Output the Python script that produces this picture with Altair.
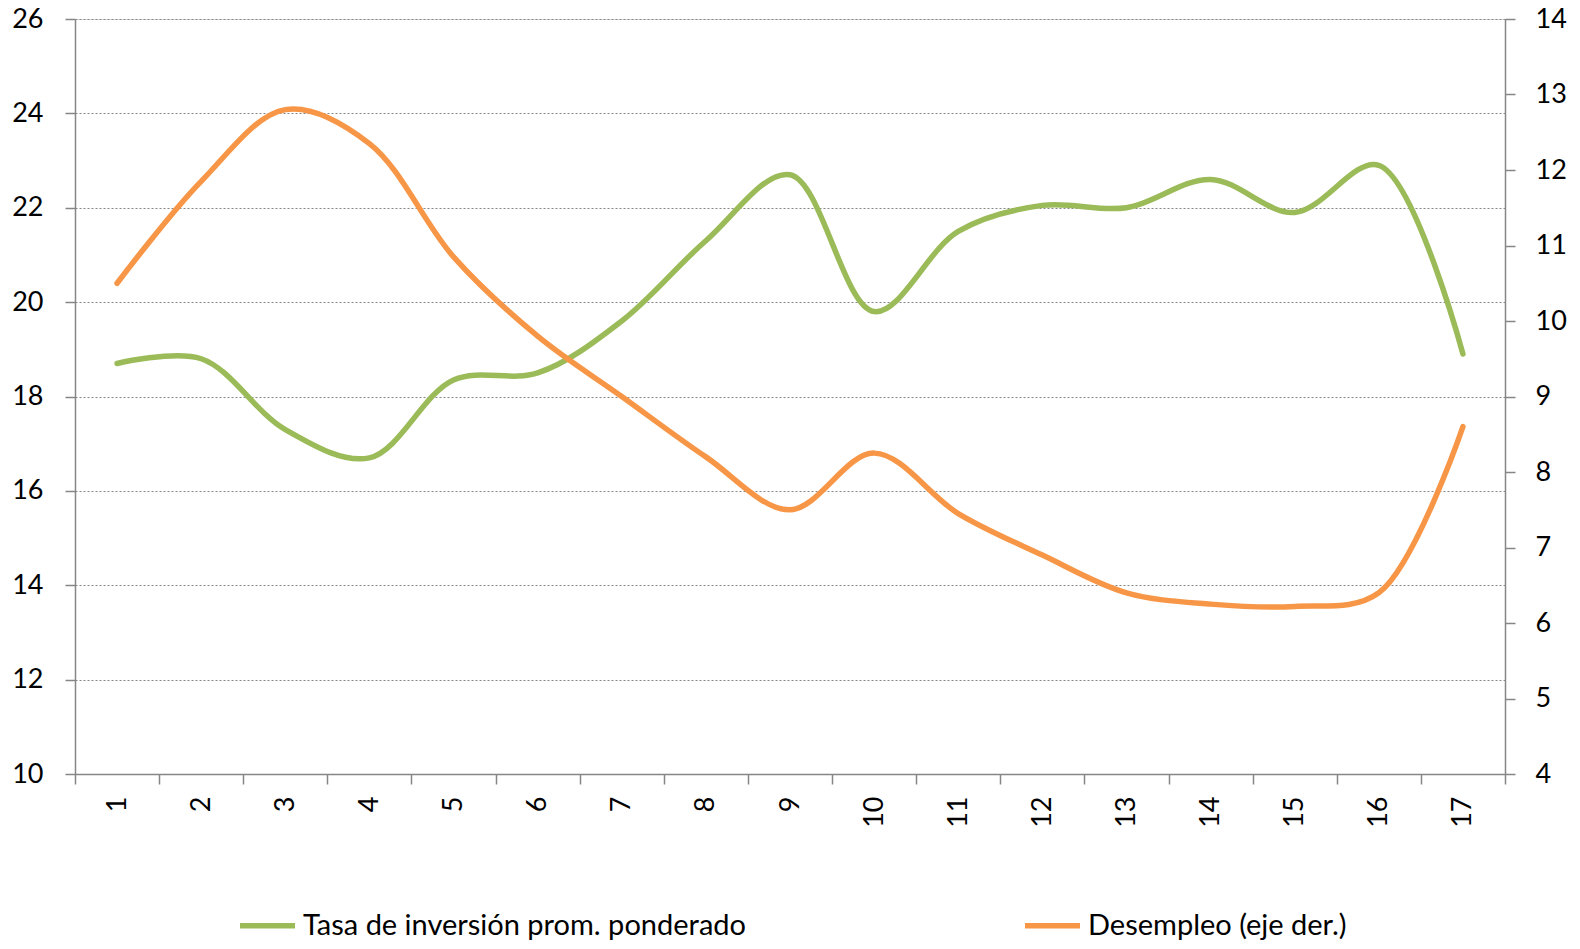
import altair as alt
import pandas as pd

# ---- data ----
periodos = list(range(1, 18))
inversion = [18.7, 18.8, 17.3, 16.7, 18.35, 18.5, 19.6, 21.3, 22.7, 19.8,
             21.5, 22.05, 22.0, 22.6, 21.9, 22.9, 18.9]
desempleo = [10.5, 11.85, 12.8, 12.35, 10.85, 9.8, 9.0, 8.2, 7.5, 8.25,
             7.45, 6.9, 6.4, 6.25, 6.22, 6.4, 8.6]
series = ["Tasa de inversión prom. ponderado", "Desempleo (eje der.)"]
colores = ["#9BBB59", "#F79646"]
left_ticks = list(range(10, 27, 2))
right_ticks = list(range(4, 15, 1))

df = pd.DataFrame({"periodo": periodos, "inv": inversion, "des": desempleo})

FONT = "Lato"
FS = 27
AXIS_GRAY = "#868686"

x_enc = alt.X(
    "periodo:O",
    bandPosition=0.5,
    scale=alt.Scale(type="band", paddingInner=0, paddingOuter=0),
    axis=alt.Axis(
        title=None, labelAngle=270, tickBand="extent", grid=False,
        domainColor=AXIS_GRAY, tickColor=AXIS_GRAY, tickSize=10,
        labelPadding=12, labelFontSize=FS, labelFont=FONT, labelColor="black",
        domainWidth=1.5, tickWidth=1.5,
    ),
)

color_enc = alt.Color(
    "serie:N",
    scale=alt.Scale(domain=series, range=colores),
    legend=alt.Legend(
        title=None, orient="none", legendX=162, legendY=876,
        direction="horizontal", columns=2, columnPadding=268,
        symbolType="stroke", symbolSize=3025, symbolStrokeWidth=5.5,
        labelFontSize=29, labelFont=FONT, labelColor="black",
        labelOffset=5, labelLimit=0, padding=0,
    ),
)

base = alt.Chart(df)

left = base.transform_calculate(serie=f"'{series[0]}'").mark_line(
    interpolate="catmull-rom", strokeWidth=5.5, strokeCap="round"
).encode(
    x=x_enc,
    y=alt.Y(
        "inv:Q",
        scale=alt.Scale(domain=[10, 26], nice=False, zero=False),
        axis=alt.Axis(
            title=None, values=left_ticks, orient="left",
            grid=True, gridDash=[2, 2], gridColor=AXIS_GRAY, gridWidth=1.2,
            domainColor=AXIS_GRAY, tickColor=AXIS_GRAY, tickSize=10,
            domainWidth=1.5, tickWidth=1.5,
            labelPadding=22, labelFontSize=FS, labelFont=FONT, labelColor="black",
        ),
    ),
    color=color_enc,
)

right = base.transform_calculate(serie=f"'{series[1]}'").mark_line(
    interpolate="catmull-rom", strokeWidth=5.5, strokeCap="round"
).encode(
    x=x_enc,
    y=alt.Y(
        "des:Q",
        scale=alt.Scale(domain=[4, 14], nice=False, zero=False),
        axis=alt.Axis(
            title=None, values=right_ticks, orient="right", grid=False,
            domainColor=AXIS_GRAY, tickColor=AXIS_GRAY, tickSize=10,
            domainWidth=1.5, tickWidth=1.5,
            labelPadding=20, labelFontSize=FS, labelFont=FONT, labelColor="black",
        ),
    ),
    color=color_enc,
)

chart = alt.layer(left, right).resolve_scale(y="independent").properties(
    width=1430, height=755,
    autosize=alt.AutoSizeParams(type="none"),
    padding={"left": 67, "top": 11, "right": 64, "bottom": 166},
).configure_view(stroke=None).configure(background="white")

chart.save("out.html", embed_options={"renderer": "svg", "actions": False})
